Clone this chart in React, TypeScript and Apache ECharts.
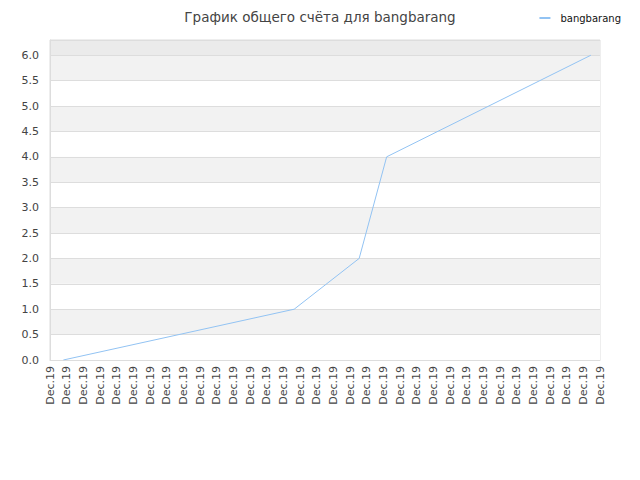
import React, { useEffect, useRef } from "react";
import * as echarts from "echarts";

const title = "График общего счёта для bangbarang";
const seriesName = "bangbarang";

// x tick labels (one per axis step)
const xLabels: string[] = Array.from({ length: 34 }, () => "Dec.19");

// points: position along the x axis (in label steps) and score
const pointX = [0.8, 14.65, 18.55, 20.2, 32.45];
const pointY = [0, 1, 2, 4, 6];

const yMax = 6.3;

const bandColors = [
  "#ffffff", "#f2f2f2", "#ffffff", "#f2f2f2", "#ffffff", "#f2f2f2",
  "#ffffff", "#f2f2f2", "#ffffff", "#f2f2f2", "#ffffff", "#f2f2f2",
  "#ebebeb",
];

const font = "DejaVu Sans";

export default function App() {
  const ref = useRef<HTMLDivElement>(null);

  useEffect(() => {
    if (!ref.current) return;
    document.body.style.margin = "0";
    const chart = echarts.init(ref.current, undefined, { renderer: "svg" });

    chart.setOption({
      animation: false,
      title: {
        text: title,
        left: "center",
        top: 5,
        textStyle: {
          fontFamily: font,
          fontSize: 13.5,
          fontWeight: "normal",
          color: "#444",
        },
      },
      legend: {
        right: 14,
        top: 8,
        icon: "rect",
        itemWidth: 11,
        itemHeight: 2,
        itemGap: 8,
        textStyle: {
          fontFamily: font,
          fontSize: 10,
          color: "#111",
          padding: [0, 0, 0, 5],
        },
        data: [seriesName],
      },
      grid: {
        left: 50,
        right: 40,
        top: 40,
        bottom: 120,
        show: true,
        borderColor: "#dddddd",
        borderWidth: 1,
      },
      xAxis: {
        type: "value",
        min: 0,
        max: xLabels.length - 1,
        interval: 1,
        axisLine: { show: true, onZero: false, lineStyle: { color: "#dddddd" } },
        axisTick: { show: false },
        splitLine: { show: false },
        axisLabel: {
          rotate: 90,
          margin: 6,
          fontFamily: font,
          fontSize: 11,
          color: "#444",
          showMinLabel: true,
          showMaxLabel: true,
          formatter: (v: number) => xLabels[Math.round(v)] ?? "",
        },
      },
      yAxis: {
        type: "value",
        min: 0,
        max: yMax,
        interval: 0.5,
        axisLine: { show: true, lineStyle: { color: "#dddddd" } },
        axisTick: { show: false },
        splitLine: { show: true, lineStyle: { color: "#dddddd" } },
        splitArea: { show: true, areaStyle: { color: bandColors } },
        axisLabel: {
          margin: 11,
          fontFamily: font,
          fontSize: 11,
          color: "#444",
          showMaxLabel: false,
          formatter: (v: number) => v.toFixed(1),
        },
      },
      series: [
        {
          name: seriesName,
          type: "line",
          data: pointX.map((x, i) => [x, pointY[i]]),
          showSymbol: false,
          lineStyle: { width: 1, color: "#92c3f3" },
          itemStyle: { color: "#92c3f3" },
        },
      ],
    });

    return () => chart.dispose();
  }, []);

  return <div ref={ref} style={{ width: 640, height: 480 }} />;
}
